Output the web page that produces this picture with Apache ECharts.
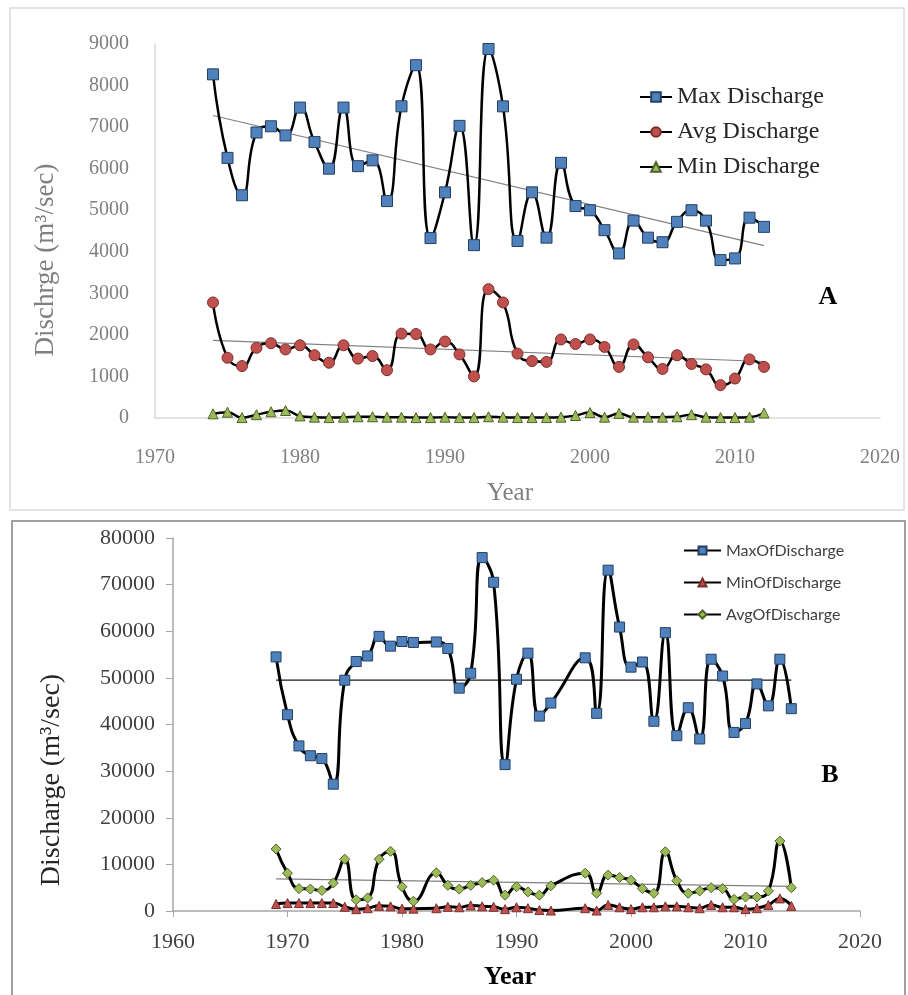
<!DOCTYPE html>
<html><head><meta charset="utf-8">
<script src="https://cdn.jsdelivr.net/npm/echarts@6/dist/echarts.min.js"></script>
<style>html,body{margin:0;padding:0;background:#fff}#c{width:908px;height:995px}</style>
</head><body><div id="c"></div>
<script>
// ---------- Panel A data ----------
const yearsA = [1974,1975,1976,1977,1978,1979,1980,1981,1982,1983,1984,1985,1986,1987,1988,1989,1990,1991,1992,1993,1994,1995,1996,1997,1998,1999,2000,2001,2002,2003,2004,2005,2006,2007,2008,2009,2010,2011,2012];
const maxA = [8270,6260,5360,6870,7020,6800,7470,6640,6000,7470,6060,6200,5220,7500,8490,4330,5430,7030,4160,8880,7500,4260,5430,4340,6140,5100,5000,4520,3960,4750,4340,4230,4720,5000,4750,3800,3840,4820,4600];
const avgA = [2780,1450,1250,1690,1800,1650,1750,1510,1330,1750,1430,1490,1150,2030,2020,1650,1840,1530,1000,3100,2780,1550,1370,1350,1890,1780,1890,1710,1230,1770,1460,1180,1510,1300,1170,790,950,1410,1230];
const minA = [100,140,10,80,150,180,50,20,10,20,30,30,20,20,10,10,20,10,10,30,20,10,10,10,20,60,130,20,110,20,20,20,30,80,20,10,10,20,120];
const trendYearsA = [1974, 2012];
const trendMaxA = [7280, 4150];
const trendAvgA = [1870, 1360];
const namesA = ['Max Discharge','Avg Discharge','Min Discharge'];

// ---------- Panel B data ----------
const yearsB = [1969,1970,1971,1972,1973,1974,1975,1976,1977,1978,1979,1980,1981,1983,1984,1985,1986,1987,1988,1989,1990,1991,1992,1993,1996,1997,1998,1999,2000,2001,2002,2003,2004,2005,2006,2007,2008,2009,2010,2011,2012,2013,2014];
const maxB = [54500,42100,35400,33300,32700,27200,49500,53500,54700,58900,56800,57800,57600,57700,56300,47800,51000,75800,70500,31400,49700,55300,41800,44600,54300,42400,73100,60900,52300,53400,40700,59700,37600,43600,36900,54000,50400,38300,40200,48700,44000,54000,43400];
const minB = [1500,1700,1700,1700,1700,1700,900,400,600,1100,1000,500,500,600,900,800,1200,1000,900,400,800,600,200,100,600,100,1300,800,400,800,800,1000,1000,800,600,1300,800,800,400,600,1300,2700,1100];
const avgB = [13300,8100,4800,4700,4400,6000,11100,2400,2800,11100,12800,5200,2100,8200,5500,4700,5500,6100,6600,3400,5200,4100,3400,5400,8100,3800,7700,7200,6600,4800,3800,12700,6500,3800,4300,5000,4800,2500,3000,3000,4300,15000,5000];
const trendYearsB = [1969, 2014];
const trendMaxB = [49500, 49500];
const trendAvgB = [6900, 5300];
const namesB = ['MaxOfDischarge','MinOfDischarge','AvgOfDischarge'];

const pair = (xs, ys) => xs.map((x, i) => [x, ys[i]]);
const plain = v => String(v);

const chart = echarts.init(document.getElementById('c'), null, {renderer: 'canvas'});
const serifA = 'Liberation Serif';

function dataSeries(name, xi, yi, xs, ys, symbol, size, fill, border, lw) {
  return {
    name, type: 'line', xAxisIndex: xi, yAxisIndex: yi,
    data: pair(xs, ys), smooth: 0.5, symbol, symbolSize: size,
    showAllSymbol: true, z: 3,
    lineStyle: {color: '#000', width: lw},
    itemStyle: {color: fill, borderColor: border, borderWidth: 1},
    emphasis: {disabled: true}, animation: false
  };
}
function trendSeries(xi, yi, xs, ys, color, w) {
  return {
    type: 'line', xAxisIndex: xi, yAxisIndex: yi, data: pair(xs, ys),
    symbol: 'none', z: 2, lineStyle: {color, width: w},
    emphasis: {disabled: true}, animation: false, silent: true, legendHoverLink: false
  };
}

chart.setOption({
  animation: false,
  backgroundColor: '#fff',
  grid: [
    {left: 155, right: 28, top: 44, height: 374},
    {left: 173, right: 48, top: 538, height: 373}
  ],
  xAxis: [
    {gridIndex: 0, type: 'value', min: 1970, max: 2020, interval: 10,
     axisLine: {show: true, onZero: false, lineStyle: {color: '#d9d9d9', width: 1.5}},
     axisTick: {show: false}, splitLine: {show: false},
     axisLabel: {color: '#7f7f7f', fontFamily: serifA, fontSize: 20, margin: 30, formatter: plain}},
    {gridIndex: 1, type: 'value', min: 1960, max: 2020, interval: 10,
     axisLine: {show: true, onZero: false, lineStyle: {color: '#a6a6a6', width: 1.5}},
     axisTick: {show: true, length: 6, lineStyle: {color: '#a6a6a6'}}, splitLine: {show: false},
     axisLabel: {color: '#404040', fontFamily: serifA, fontSize: 22, margin: 20, formatter: plain}}
  ],
  yAxis: [
    {gridIndex: 0, type: 'value', min: 0, max: 9000, interval: 1000,
     axisLine: {show: true, lineStyle: {color: '#d9d9d9', width: 1.5}},
     axisTick: {show: false}, splitLine: {show: false},
     axisLabel: {color: '#7f7f7f', fontFamily: serifA, fontSize: 20, margin: 26, formatter: plain}},
    {gridIndex: 1, type: 'value', min: 0, max: 80000, interval: 10000,
     axisLine: {show: true, lineStyle: {color: '#a6a6a6', width: 1.5}},
     axisTick: {show: true, length: 7, lineStyle: {color: '#a6a6a6'}}, splitLine: {show: false},
     axisLabel: {color: '#404040', fontFamily: serifA, fontSize: 22, margin: 18, formatter: plain}}
  ],
  legend: [
    {data: namesA, orient: 'vertical', left: 634, top: 80, itemWidth: 32, itemHeight: 12,
     itemGap: 11, textStyle: {fontFamily: serifA, fontSize: 24, color: '#262626', lineHeight: 24}},
    {data: namesB, orient: 'vertical', left: 678, top: 536, itemWidth: 37, itemHeight: 10,
     itemGap: 13, textStyle: {fontFamily: 'Lato', fontSize: 16, color: '#404040', lineHeight: 19}}
  ],
  graphic: [
    {type: 'rect', shape: {x: 10, y: 8, width: 894, height: 502}, style: {fill: 'none', stroke: '#dcdcdc', lineWidth: 1.5}, silent: true},
    {type: 'rect', shape: {x: 12, y: 521, width: 893, height: 480}, style: {fill: 'none', stroke: '#a0a0a0', lineWidth: 2}, silent: true},
    {type: 'text', x: 46, y: 260, rotation: Math.PI / 2, style: {text: 'Dischrge (m³/sec)', font: '27px "Liberation Serif"', fill: '#7f7f7f', align: 'center', verticalAlign: 'middle'}},
    {type: 'text', x: 510, y: 493, style: {text: 'Year', font: '25px "Liberation Serif"', fill: '#7f7f7f', align: 'center', verticalAlign: 'middle'}},
    {type: 'text', x: 828, y: 297, style: {text: 'A', font: 'bold 26px "Liberation Serif"', fill: '#000', align: 'center', verticalAlign: 'middle'}},
    {type: 'text', x: 52, y: 780, rotation: Math.PI / 2, style: {text: 'Discharge (m³/sec)', font: '28px "Liberation Serif"', fill: '#262626', align: 'center', verticalAlign: 'middle'}},
    {type: 'text', x: 510, y: 977, style: {text: 'Year', font: 'bold 26px "Liberation Serif"', fill: '#000', align: 'center', verticalAlign: 'middle'}},
    {type: 'text', x: 830, y: 775, style: {text: 'B', font: 'bold 26px "Liberation Serif"', fill: '#000', align: 'center', verticalAlign: 'middle'}}
  ],
  series: [
    trendSeries(0, 0, trendYearsA, trendMaxA, '#808080', 1.2),
    trendSeries(0, 0, trendYearsA, trendAvgA, '#808080', 1.2),
    dataSeries(namesA[0], 0, 0, yearsA, maxA, 'rect', 11, '#4f81bd', '#243f60', 2.5),
    dataSeries(namesA[1], 0, 0, yearsA, avgA, 'circle', 11, '#c0504d', '#7a2f2d', 2.5),
    dataSeries(namesA[2], 0, 0, yearsA, minA, 'triangle', 10, '#9bbb59', '#4f6228', 2.5),
    trendSeries(1, 1, trendYearsB, trendMaxB, '#1a1a1a', 1.2),
    trendSeries(1, 1, trendYearsB, trendAvgB, '#808080', 1.2),
    dataSeries(namesB[0], 1, 1, yearsB, maxB, 'rect', 10, '#4f81bd', '#243f60', 3),
    dataSeries(namesB[1], 1, 1, yearsB, minB, 'triangle', 9, '#c0504d', '#7a2f2d', 3),
    dataSeries(namesB[2], 1, 1, yearsB, avgB, 'diamond', 10, '#9bbb59', '#4f6228', 3)
  ]
});
</script></body></html>
